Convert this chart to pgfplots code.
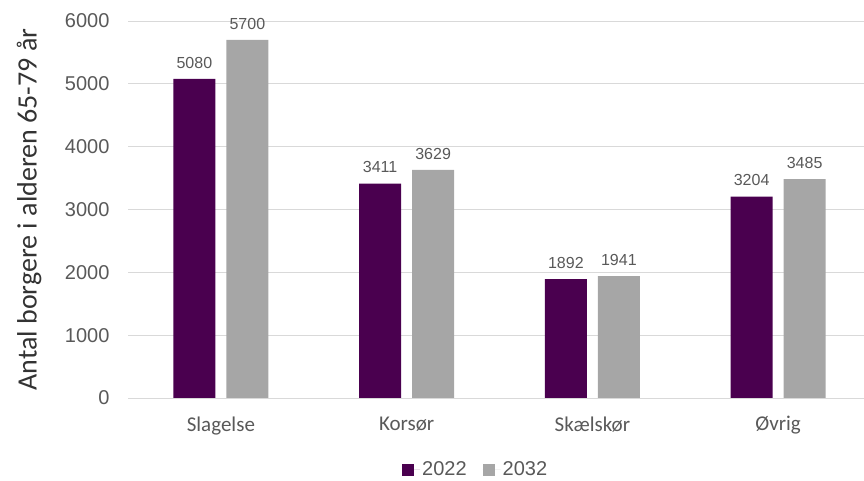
\documentclass[border=0pt]{standalone}
\usepackage{pgfplots}
\pgfplotsset{compat=1.18}
\usepackage{fontspec}
\setmainfont{Liberation Sans}
\newfontfamily\carlito{Carlito}
\definecolor{barpurple}{HTML}{4A004F}
\definecolor{bargray}{HTML}{A6A6A6}
\definecolor{txt}{HTML}{595959}
\definecolor{gridc}{HTML}{D9D9D9}
\begin{document}
\begin{tikzpicture}[x=1pt,y=1pt]
\useasboundingbox (0,0) rectangle (864,481);
\begin{axis}[
  at={(128pt,83pt)}, anchor=south west,
  scale only axis, width=743pt, height=377pt,
  ybar, bar width=42pt,
  xmin=-0.5, xmax=3.5, ymin=0, ymax=6000,
  ytick={0,1000,...,6000},
  xtick={0,1,2,3},
  xticklabels={Slagelse,Korsør,Skælskør,Øvrig},
  major tick length=0pt,
  axis line style={draw=none},
  ymajorgrids, grid style={gridc, line width=0.8pt},
  /pgf/number format/assume math mode=true,
  /pgf/number format/1000 sep={},
  yticklabel style={font=\fontsize{20}{22}\selectfont, text=txt, xshift=-15pt},
  xticklabel style={font=\carlito\fontsize{21}{24}\selectfont, text=txt, yshift=-15pt},
  ylabel={\carlito Antal borgere i alderen 65-79 år},
  ylabel style={font=\fontsize{28}{32}\selectfont, text=black!80, at={(axis description cs:0,0.5)}, anchor=center, rotate=0, yshift=99pt},
  nodes near coords,
  every node near coord/.append style={font=\fontsize{16}{18}\selectfont, text=txt, yshift=7pt},
  legend style={at={(0.468,-0.19)}, anchor=center, draw=none, legend columns=2,
    font=\fontsize{20}{22}\selectfont, text=txt,
    /tikz/every even column/.append style={column sep=14pt}},
  legend image code/.code={\fill[#1] (0pt,-6pt) rectangle (12pt,6pt); \path (0pt,0pt) -- (18pt,0pt);},
]
\addplot[fill=barpurple, draw=none, bar shift=-26.5pt] coordinates {(0,5080) (1,3411) (2,1892) (3,3204)};
\addplot[fill=bargray, draw=none, bar shift=26.5pt] coordinates {(0,5700) (1,3629) (2,1941) (3,3485)};
\draw[gridc, line width=0.8pt] (axis cs:-0.5,0) -- (axis cs:3.5,0);
\legend{2022,2032}
\end{axis}
\end{tikzpicture}
\end{document}
